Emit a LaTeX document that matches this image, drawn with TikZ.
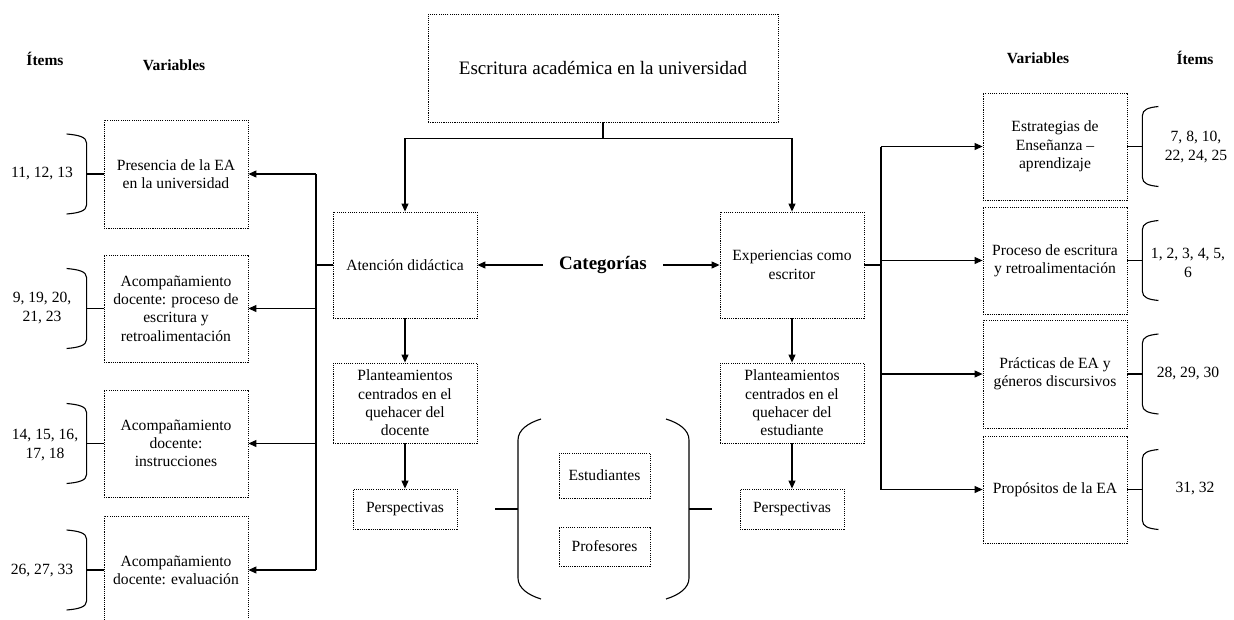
\documentclass[tikz,border=0pt]{standalone}
\usepackage{fontspec}
\setmainfont{Liberation Serif}
\usetikzlibrary{arrows.meta}
\newcommand\txtbody{\fontsize{15.6}{18.3}\selectfont}
\newcommand\txttitle{\fontsize{19}{22}\selectfont}
\newcommand\txthead{\fontsize{15.5}{18}\selectfont\bfseries}
\begin{document}
\begin{tikzpicture}[x=1pt,y=-1pt,
  box/.style={draw, dash pattern=on 1.1pt off 1.1pt, line width=0.85pt,
    inner sep=0pt, align=center, font=\txtbody,
    minimum width=144pt, minimum height=107pt},
  label/.style={inner sep=0pt, align=center, font=\txtbody},
  head/.style={inner sep=0pt, font=\txthead},
  line/.style={line width=1.1pt},
  arr/.style={line width=1.1pt, -{Triangle[length=8pt,width=7pt]}},
  leftbrace/.pic={
    \draw[line] (0,0) -- (-17,0);
    \draw[line] (-37,-40) .. controls (-25,-39) and (-17,-37) .. (-17,-31)
      -- (-17,31) .. controls (-17,37) and (-25,39) .. (-37,40);
  },
  rightbrace/.pic={
    \draw[line] (0,0) -- (15,0);
    \draw[line] (31,-40) .. controls (21,-39) and (15,-37) .. (15,-31)
      -- (15,31) .. controls (15,37) and (21,39) .. (31,40);
  }]
\path[use as bounding box, clip] (0,0) rectangle (1234,619);

% main theme
\node[box, minimum width=350pt, minimum height=108pt, font=\txttitle] (top) at (603,68)
  {Escritura académica en la universidad};

% column headings
\node[head] (hIL) at (45,59) {Ítems};
\node[head] (hVL) at (174,65) {Variables};
\node[head] (hVR) at (1038,58) {Variables};
\node[head] (hIR) at (1195,58) {Ítems};

% categories
\node[inner xsep=16pt, inner ysep=0pt, font=\txttitle\bfseries] (cat) at (603,265) {Categorías};
\node[box, minimum height=106pt] (aten) at (405,265) {Atención didáctica};
\node[box, minimum height=106pt] (exp) at (792,265) {Experiencias como\\escritor};
\node[box, minimum height=80pt] (plL) at (405,403)
  {Planteamientos\\centrados en el\\quehacer del\\docente};
\node[box, minimum height=80pt] (plR) at (792,403)
  {Planteamientos\\centrados en el\\quehacer del\\estudiante};
\node[box, minimum width=104pt, minimum height=40pt] (perL) at (405,509) {Perspectivas};
\node[box, minimum width=104pt, minimum height=40pt] (perR) at (792,509) {Perspectivas};
\node[box, minimum width=91pt, minimum height=45pt] (estu) at (604.5,475.5) {Estudiantes};
\node[box, minimum width=91pt, minimum height=39pt] (prof) at (604.5,546.5) {Profesores};

% left variables
\node[box, minimum height=108pt] (pres) at (176,174) {Presencia de la EA\\en la universidad};
\node[box] (ac1) at (176,308.5) {Acompañamiento\\docente: proceso de\\escritura y\\retroalimentación};
\node[box] (ac2) at (176,443.5) {Acompañamiento\\docente:\\instrucciones};
\node[box, minimum height=108pt] (ev) at (176,570) {Acompañamiento\\docente: evaluación};

% right variables
\node[box] (estr) at (1055,146.5) {Estrategias de\\Enseñanza –\\aprendizaje};
\node[box] (proc) at (1055,260.5) {Proceso de escritura\\y retroalimentación};
\node[box, minimum height=108pt] (prac) at (1055,374) {Prácticas de EA y\\géneros discursivos};
\node[box] (prop) at (1055,489.5) {Propósitos de la EA};

% item numbers
\node[label] (i1) at (42,174) {11, 12, 13};
\node[label] (i2) at (42,308) {9, 19, 20,\\21, 23};
\node[label] (i3) at (45,445) {14, 15, 16,\\17, 18};
\node[label] (i4) at (42,571) {26, 27, 33};
\node[label] (r1) at (1196,147) {7, 8, 10,\\22, 24, 25};
\node[label] (r2) at (1188,263) {1, 2, 3, 4, 5,\\6};
\node[label] (r3) at (1188,374) {28, 29, 30};
\node[label] (r4) at (1195,489) {31, 32};

% braces grouping the items
\pic at (pres.west) {leftbrace};
\pic at (ac1.west) {leftbrace};
\pic at (ac2.west) {leftbrace};
\pic at (ev.west) {leftbrace};
\pic at (estr.east) {rightbrace};
\pic at (proc.east) {rightbrace};
\pic at (prac.east) {rightbrace};
\pic at (prop.east) {rightbrace};

% split from the main theme
\draw[line] (top.south) -- ++(0,16) coordinate (split);
\draw[arr] (split) -| (aten.north);
\draw[arr] (split) -| (exp.north);

% categories to their boxes
\draw[arr] (cat.west) -- (aten.east);
\draw[arr] (cat.east) -- (exp.west);
\draw[arr] (aten) -- (plL);
\draw[arr] (plL) -- (perL);
\draw[arr] (exp) -- (plR);
\draw[arr] (plR) -- (perR);

% left distribution line
\coordinate (lhub) at (316,265);
\draw[line] (aten.west) -- (lhub);
\draw[line] (lhub |- pres.east) -- (lhub |- ev.east);
\foreach \n in {pres, ac1, ac2, ev}
  \draw[arr] (lhub |- \n.east) -- (\n.east);

% right distribution line
\coordinate (rhub) at (881,265);
\draw[line] (exp.east) -- (rhub);
\draw[line] (rhub |- estr.west) -- (rhub |- prop.west);
\foreach \n in {estr, proc, prac, prop}
  \draw[arr] (rhub |- \n.west) -- (\n.west);

% parentheses around the participants
\coordinate (ptl) at (495,509);
\coordinate (ptr) at (712,509);
\draw[line] (541,419) .. controls (528,423) and (518,430) .. (518,440)
  -- (518,578) .. controls (518,588) and (528,595) .. (541,599);
\draw[line] (666,419) .. controls (679,423) and (689,430) .. (689,440)
  -- (689,578) .. controls (689,588) and (679,595) .. (666,599);
\draw[line] (ptl) -- (ptl -| 518,0);
\draw[line] (ptr) -- (ptr -| 689,0);
\end{tikzpicture}
\end{document}
